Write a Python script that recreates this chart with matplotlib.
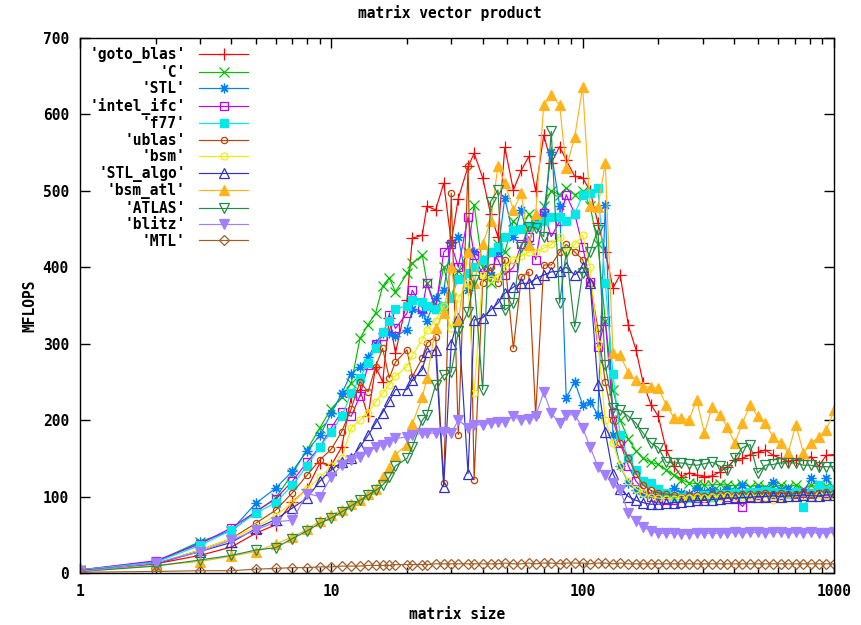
import matplotlib
matplotlib.use("Agg")
import matplotlib.pyplot as plt
from matplotlib.ticker import LogLocator, NullFormatter, FixedLocator, FixedFormatter

# ---------------- data ----------------
sizes = [1, 2, 3, 4, 5, 6, 7, 8, 9, 10,
         11, 12, 13, 14, 15, 16, 17, 18, 20, 21,
         23, 24, 26, 28, 30, 32, 35, 37, 40, 43,
         46, 49, 53, 57, 61, 65, 70, 75, 81, 86,
         93, 100, 107, 115, 123, 132, 141, 152, 163, 174,
         187, 200, 215, 231, 247, 265, 284, 305, 327, 351,
         376, 403, 432, 464, 497, 533, 572, 613, 657, 705,
         756, 811, 869, 932, 1000]

goto_blas = [3, 12, 23, 34, 52, 63, 93, 110, 144, 141,
             165, 230, 240, 205, 270, 250, 333, 288, 357, 438,
             442, 480, 475, 510, 433, 490, 532, 549, 517, 470,
             440, 557, 501, 527, 545, 500, 573, 536, 558, 540,
             519, 517, 500, 458, 420, 373, 390, 324, 292, 249,
             220, 205, 161, 140, 126, 131, 128, 126, 127, 132,
             139, 148, 150, 155, 158, 161, 154, 150, 146, 148,
             150, 152, 140, 154, 155]

C = [4, 15, 41, 55, 80, 98, 130, 161, 190, 215,
     230, 248, 307, 325, 340, 375, 386, 368, 392, 405,
     416, 380, 350, 400, 360, 395, 420, 482, 400, 380,
     430, 420, 460, 450, 470, 455, 480, 500, 495, 504,
     495, 500, 480, 430, 330, 240, 200, 175, 160, 150,
     145, 142, 135, 128, 122, 118, 117, 115, 115, 116,
     115, 114, 116, 113, 115, 113, 112, 115, 113, 115,
     110, 115, 112, 114, 112]

STL = [4, 14, 40, 56, 91, 111, 133, 160, 180, 209,
       235, 261, 270, 282, 300, 314, 314, 310, 318, 345,
       340, 330, 360, 370, 432, 440, 370, 420, 410, 390,
       420, 491, 440, 475, 430, 460, 470, 551, 480, 229,
       250, 220, 224, 207, 482, 181, 140, 118, 108, 104,
       102, 100, 103, 111, 105, 104, 111, 106, 108, 106,
       110, 107, 115, 105, 110, 108, 119, 108, 110, 106,
       105, 124, 110, 124, 108]

intel_ifc = [4, 16, 38, 59, 80, 97, 120, 145, 165, 190,
             211, 205, 232, 272, 300, 310, 338, 320, 340, 370,
             347, 379, 345, 420, 430, 400, 466, 416, 390, 420,
             410, 390, 400, 430, 440, 410, 471, 440, 460, 495,
             470, 427, 381, 296, 330, 210, 170, 140, 120, 110,
             100, 98, 96, 95, 98, 100, 98, 98, 100, 102,
             100, 98, 87, 100, 102, 100, 103, 102, 104, 103,
             105, 104, 106, 105, 108]

f77 = [4, 14, 36, 56, 78, 92, 115, 140, 165, 185,
       205, 235, 255, 275, 295, 315, 330, 345, 350, 357,
       355, 349, 345, 350, 360, 385, 393, 400, 410, 420,
       427, 440, 449, 450, 453, 455, 460, 466, 466, 460,
       470, 495, 497, 504, 380, 260, 180, 150, 135, 120,
       118, 110, 105, 100, 99, 98, 100, 102, 100, 103,
       104, 105, 104, 106, 106, 107, 106, 105, 104, 106,
       86, 105, 115, 108, 110]

ublas = [3, 12, 30, 45, 65, 82, 105, 128, 148, 162,
         185, 215, 250, 237, 270, 294, 255, 276, 292, 257,
         281, 301, 309, 118, 497, 181, 532, 122, 380, 400,
         380, 410, 294, 387, 394, 207, 403, 403, 420, 430,
         420, 410, 380, 320, 250, 200, 170, 150, 130, 115,
         108, 105, 103, 102, 100, 101, 102, 101, 103, 104,
         103, 102, 104, 103, 104, 105, 104, 105, 103, 104,
         105, 104, 105, 106, 105]

bsm = [3, 12, 30, 45, 60, 75, 92, 110, 125, 140,
       150, 190, 200, 210, 224, 235, 246, 258, 270, 285,
       305, 318, 330, 350, 320, 360, 380, 235, 390, 385,
       387, 400, 410, 415, 420, 420, 425, 430, 440, 420,
       430, 442, 400, 300, 200, 170, 140, 120, 110, 105,
       100, 98, 97, 97, 98, 98, 99, 98, 100, 100,
       101, 99, 100, 101, 100, 99, 95, 100, 98, 100,
       101, 100, 102, 101, 102]

STL_algo = [3, 12, 28, 40, 58, 70, 85, 98, 120, 135,
            145, 150, 165, 180, 196, 210, 225, 240, 240, 253,
            266, 289, 292, 113, 300, 334, 130, 331, 334, 344,
            353, 366, 374, 379, 379, 385, 390, 394, 395, 400,
            390, 400, 380, 246, 185, 130, 110, 100, 95, 92,
            90, 90, 91, 92, 93, 94, 95, 95, 96, 97,
            98, 98, 99, 99, 100, 100, 101, 100, 101, 101,
            102, 101, 101, 102, 102]

bsm_atl = [2, 10, 15, 22, 28, 38, 47, 57, 68, 76,
           82, 90, 95, 103, 110, 125, 138, 155, 168, 195,
           230, 255, 321, 340, 401, 330, 420, 380, 430, 460,
           532, 510, 475, 497, 429, 470, 612, 626, 612, 530,
           571, 636, 480, 479, 536, 288, 285, 262, 252, 244,
           243, 242, 220, 203, 203, 200, 227, 183, 217, 207,
           191, 170, 196, 220, 205, 196, 178, 170, 157, 194,
           157, 170, 178, 187, 213]

ATLAS = [2, 9, 17, 23, 30, 33, 45, 55, 65, 72,
         80, 88, 95, 102, 108, 115, 125, 140, 150, 165,
         200, 207, 246, 259, 263, 316, 342, 383, 240, 486,
         501, 344, 353, 427, 453, 452, 440, 578, 353, 420,
         322, 393, 420, 449, 272, 216, 213, 205, 196, 183,
         170, 164, 145, 144, 144, 142, 141, 143, 145, 140,
         135, 150, 164, 168, 131, 141, 142, 144, 144, 144,
         141, 141, 139, 139, 139]

blitz = [2, 13, 28, 43, 56, 67, 69, 104, 100, 126,
         141, 148, 152, 158, 165, 168, 172, 176, 178, 180,
         183, 183, 183, 185, 183, 200, 190, 194, 194, 196,
         197, 198, 205, 200, 202, 205, 237, 209, 196, 207,
         207, 190, 165, 139, 128, 118, 109, 78, 68, 60,
         55, 52, 52, 52, 51, 51, 52, 52, 52, 52,
         52, 53, 52, 53, 53, 52, 53, 53, 52, 53,
         52, 53, 52, 52, 53]

MTL = [1, 2, 3, 3, 5, 6, 7, 7, 8, 8,
       9, 9, 9, 10, 10, 10, 10, 11, 11, 11,
       11, 11, 12, 12, 12, 12, 12, 12, 12, 12,
       12, 13, 12, 12, 13, 12, 13, 13, 12, 13,
       13, 13, 12, 13, 13, 12, 13, 12, 12, 12,
       12, 12, 12, 12, 12, 12, 12, 12, 12, 12,
       12, 12, 12, 12, 12, 12, 12, 12, 12, 12,
       12, 12, 12, 12, 12]

series_names = ["'goto_blas'", "'C'", "'STL'", "'intel_ifc'", "'f77'", "'ublas'",
                "'bsm'", "'STL_algo'", "'bsm_atl'", "'ATLAS'", "'blitz'", "'MTL'"]
series_values = [goto_blas, C, STL, intel_ifc, f77, ublas, bsm, STL_algo,
                 bsm_atl, ATLAS, blitz, MTL]

y_ticks = [0, 100, 200, 300, 400, 500, 600, 700]
x_ticks = [1, 10, 100, 1000]
x_tick_labels = ["1", "10", "100", "1000"]

# ---------------- style ----------------
colors = ["#ff0000", "#00c000", "#0080ff", "#c000ff", "#00e8e8", "#c04000",
          "#eeee00", "#3030c8", "#ffb41c", "#228b45", "#a080ff", "#a0602c"]
markers = ["+", "x", (8, 2, 0), "s", "s", "o", "o", "^", "^", "v", "v", "D"]
filled = [True, True, True, False, True, False, False, False, True, False, True, False]
msizes = [8, 6.5, 7, 6, 6, 4.5, 5, 6.5, 7, 6.5, 7, 5]

FONT = "DejaVu Sans Mono"
FS = 10.5

fig = plt.figure(figsize=(8.61, 6.25), dpi=100)
ax = fig.add_axes([80 / 861, 1 - 573 / 625, (834 - 80) / 861, (573 - 38) / 625])

for name, vals, c, m, f, ms in zip(series_names, series_values, colors, markers, filled, msizes):
    kw = dict(color=c, lw=0.85, marker=m, markersize=ms, markeredgewidth=0.9,
              markeredgecolor=c, label=name)
    kw["markerfacecolor"] = c if f else "none"
    ax.plot(sizes, vals, **kw)

ax.set_xscale("log")
ax.set_xlim(1, 1000)
ax.set_ylim(0, 700)
ax.xaxis.set_major_locator(FixedLocator(x_ticks))
ax.xaxis.set_major_formatter(FixedFormatter(x_tick_labels))
ax.xaxis.set_minor_locator(LogLocator(base=10, subs=[2, 3, 4, 5, 6, 7, 8, 9]))
ax.xaxis.set_minor_formatter(NullFormatter())
ax.set_yticks(y_ticks)
ax.set_yticklabels([str(v) for v in y_ticks])

ax.tick_params(axis="both", which="major", direction="in", length=7, width=1,
               top=True, right=True, labelsize=FS, pad=8)
ax.tick_params(axis="both", which="minor", direction="in", length=4, width=1,
               top=True, right=True)
for lab in ax.get_xticklabels() + ax.get_yticklabels():
    lab.set_fontfamily(FONT)
    lab.set_fontweight("bold")
for sp in ax.spines.values():
    sp.set_linewidth(1.0)

ax.set_xlabel("matrix size", fontfamily=FONT, fontweight="bold", fontsize=FS, labelpad=6)
ax.set_ylabel("MFLOPS", fontfamily=FONT, fontweight="bold", fontsize=FS, labelpad=4)
fig.text(450 / 861, 1 - 13 / 625, "matrix vector product", ha="center", va="center",
         fontfamily=FONT, fontweight="bold", fontsize=FS)

leg = ax.legend(loc="upper left", bbox_to_anchor=(0.0, 1.0), frameon=False,
                markerfirst=False, numpoints=1, handlelength=3.4, handletextpad=0.9,
                labelspacing=0.1, borderaxespad=0.25,
                prop={"family": FONT, "weight": "bold", "size": FS})

fig.savefig("out.png", dpi=100)
